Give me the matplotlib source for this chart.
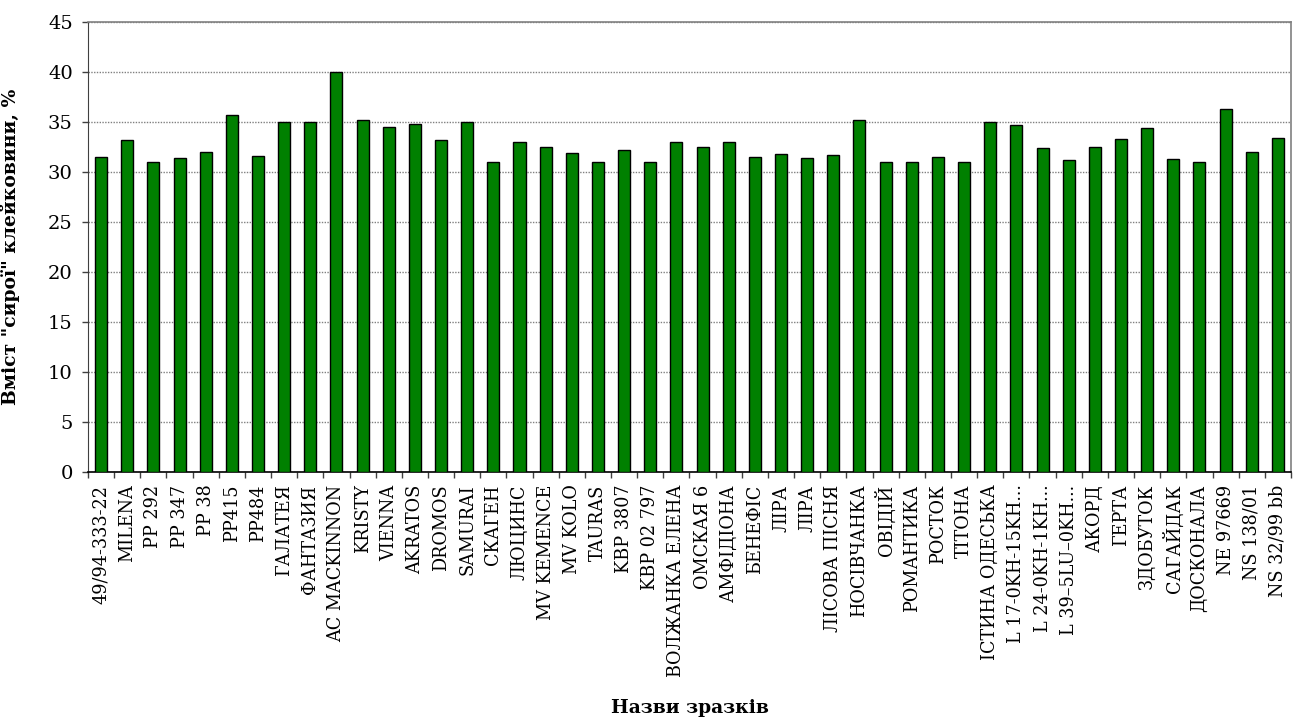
import matplotlib
matplotlib.use("Agg")
import matplotlib.pyplot as plt
import numpy as np

samples = [
    "49/94-333-22", "MILENA", "PP 292", "PP 347", "PP 38", "PP415", "PP484",
    "ГАЛАТЕЯ", "ФАНТАЗИЯ", "AC MACKINNON", "KRISTY", "VIENNA", "AKRATOS",
    "DROMOS", "SAMURAI", "СКАГЕН", "ЛЮЦИНС", "MV KEMENCE", "MV KOLO", "TAURAS",
    "KBP 3807", "KBP 02 797", "ВОЛЖАНКА ЕЛЕНА", "ОМСКАЯ 6", "АМФІДІОНА",
    "БЕНЕФІС", "ЛІРА", "ЛІРА", "ЛІСОВА ПІСНЯ", "НОСІВЧАНКА", "ОВІДІЙ",
    "РОМАНТИКА", "РОСТОК", "ТІТОНА", "ІСТИНА ОДЕСЬКА", "L 17-0KH-15KH...",
    "L 24-0KH-1KH...", "L 39–5LU–0KH...", "АКОРД", "ГЕРТА", "ЗДОБУТОК",
    "САГАЙДАК", "ДОСКОНАЛА", "NE 97669", "NS 138/01", "NS 32/99 bb",
]

gluten = [
    31.5, 33.2, 31.0, 31.4, 32.0, 35.7, 31.6, 35.0, 35.0, 40.0,
    35.2, 34.5, 34.8, 33.2, 35.0, 31.0, 33.0, 32.5, 31.9, 31.0,
    32.2, 31.0, 33.0, 32.5, 33.0, 31.5, 31.8, 31.4, 31.7, 35.2,
    31.0, 31.0, 31.5, 31.0, 35.0, 34.7, 32.4, 31.2, 32.5, 33.3,
    34.4, 31.3, 31.0, 36.3, 32.0, 33.4,
]

y_ticks = [0, 5, 10, 15, 20, 25, 30, 35, 40, 45]

plt.rcParams["font.family"] = ["DejaVu Serif"]

fig = plt.figure(figsize=(12.98, 7.2), dpi=100)
ax = fig.add_axes([0.0678, 0.3444, 0.9268, 0.625])

x = np.arange(len(samples))
ax.bar(x, gluten, width=0.46, color="#008000", edgecolor="black",
       linewidth=1.0, zorder=3)

ax.set_xlim(-0.5, len(samples) - 0.5)
ax.set_ylim(0, 45)
ax.set_yticks(y_ticks)
ax.set_yticklabels([str(t) for t in y_ticks], fontsize=14)
ax.yaxis.grid(True, linestyle=(0, (1, 1)), color="#808080", linewidth=1.0,
              zorder=0)

# category labels under each bar, tick marks on category boundaries
ax.set_xticks(x)
ax.set_xticklabels(samples, rotation=90, fontsize=12.7)
ax.tick_params(axis="x", which="major", length=0, pad=9)
ax.set_xticks(np.arange(-0.5, len(samples)), minor=True)
ax.tick_params(axis="x", which="minor", length=4, width=1, color="#404040",
               direction="out")
ax.tick_params(axis="y", length=4, width=1, color="#404040", direction="out",
               pad=7)

for side in ("top", "right"):
    ax.spines[side].set_color("#808080")
    ax.spines[side].set_linewidth(1.2)
ax.spines["left"].set_color("#404040")
ax.spines["bottom"].set_color("black")
ax.spines["bottom"].set_linewidth(1.2)

ax.set_ylabel('Вміст "сирої" клейковини, %', fontsize=13.5, fontweight="bold")
ax.yaxis.set_label_coords(-0.0565, 0.5)
ax.set_xlabel("Назви зразків", fontsize=13.5, fontweight="bold")
ax.xaxis.set_label_coords(0.5, -0.505)

fig.savefig("out.png", dpi=100, facecolor="white")
